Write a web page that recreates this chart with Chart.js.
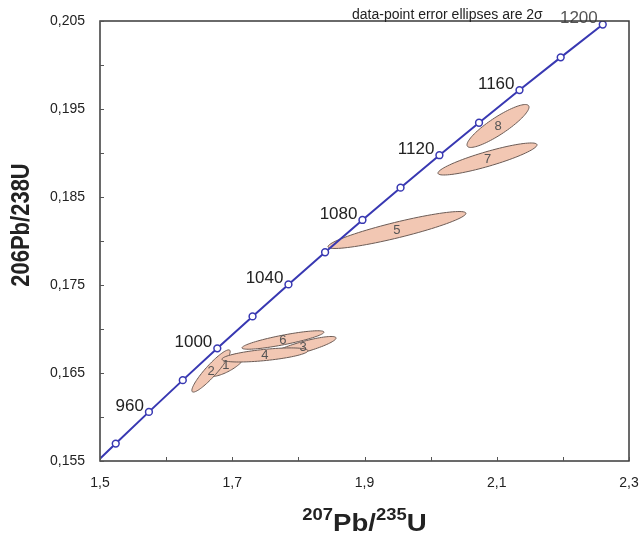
<!DOCTYPE html>
<html>
<head>
<meta charset="utf-8">
<title>Concordia</title>
<script src="https://cdn.jsdelivr.net/npm/chart.js@4.4.0/dist/chart.umd.min.js"></script>
<style>
  html, body { margin: 0; padding: 0; background: #fff; }
</style>
</head>
<body>
<canvas id="concordiaChart" width="639" height="535"></canvas>
<script>
// Concordia curve: ages (Ma) and their 207Pb/235U, 206Pb/238U ratios
const ages  = [930, 940, 960, 980, 1000, 1020, 1040, 1060, 1080, 1100, 1120, 1140, 1160, 1180, 1200];
const concX = [1.4991, 1.5238, 1.5740, 1.6252, 1.6774, 1.7307, 1.7850, 1.8404, 1.8969, 1.9545, 2.0133, 2.0732, 2.1344, 2.1967, 2.2603];
const concY = [0.15519, 0.15698, 0.16058, 0.16419, 0.16780, 0.17143, 0.17507, 0.17872, 0.18239, 0.18606, 0.18975, 0.19344, 0.19715, 0.20087, 0.20460];
const labelledAges = [960, 1000, 1040, 1080, 1120, 1160, 1200];

// Data points: centre, 2 sigma errors and error correlation
const ellNames = ['1', '2', '3', '4', '5', '6', '7', '8'];
const ellX   = [1.6905, 1.6679, 1.8070, 1.7495, 1.9491, 1.7767, 2.0860, 2.1019];
const ellY   = [0.16590, 0.16523, 0.16795, 0.16705, 0.18125, 0.16875, 0.18932, 0.19307];
const ellSx  = [0.0280, 0.0290, 0.0500, 0.0650, 0.1043, 0.0620, 0.0749, 0.0469];
const ellSy  = [0.00130, 0.00240, 0.00120, 0.00080, 0.00210, 0.00105, 0.00182, 0.00244];
const ellRho = [0.75, 0.92, 0.85, 0.60, 0.90, 0.85, 0.88, 0.88];

const noteText = 'data-point error ellipses are 2\u03c3';
const FONT = '"Liberation Sans", Arial, Helvetica, sans-serif';

// fill + outline of each error ellipse, then its number
const ellipsePlugin = {
    id: 'ellipses',
    beforeDatasetsDraw(chart) {
        const { ctx, chartArea: a, scales: { x, y } } = chart;
        ctx.save();
        ctx.beginPath();
        ctx.rect(a.left, a.top, a.right - a.left, a.bottom - a.top);
        ctx.clip();
        ellX.forEach((cx, i) => {
            const s = Math.sqrt(1 - ellRho[i] * ellRho[i]);
            ctx.beginPath();
            for (let k = 0; k <= 90; k++) {
                const t = k / 90 * 2 * Math.PI;
                const px = x.getPixelForValue(cx + ellSx[i] * Math.cos(t));
                const py = y.getPixelForValue(ellY[i] + ellSy[i] * (ellRho[i] * Math.cos(t) + s * Math.sin(t)));
                if (k === 0) ctx.moveTo(px, py); else ctx.lineTo(px, py);
            }
            ctx.closePath();
            ctx.fillStyle = '#f2c7b3';
            ctx.fill();
            ctx.strokeStyle = '#6b5b55';
            ctx.lineWidth = 1;
            ctx.stroke();
        });
        ctx.fillStyle = '#555';
        ctx.font = '13px ' + FONT;
        ctx.textAlign = 'center';
        ctx.textBaseline = 'middle';
        ellNames.forEach((n, i) => {
            ctx.fillText(n, x.getPixelForValue(ellX[i]), y.getPixelForValue(ellY[i]));
        });
        ctx.restore();
    }
};

// age labels next to the concordia markers
const ageLabelPlugin = {
    id: 'ageLabels',
    afterDatasetsDraw(chart) {
        const { ctx, scales: { x, y } } = chart;
        ctx.save();
        ctx.font = '17px ' + FONT;
        ctx.textAlign = 'right';
        ctx.textBaseline = 'middle';
        labelledAges.forEach(age => {
            const i = ages.indexOf(age);
            ctx.fillStyle = age === 1200 ? '#555' : '#222';
            ctx.fillText(String(age), x.getPixelForValue(concX[i]) - 5, y.getPixelForValue(concY[i]) - 6);
        });
        ctx.restore();
    }
};

// box, inward ticks, axis titles and note
const framePlugin = {
    id: 'frame',
    afterDraw(chart) {
        const { ctx, chartArea: a, scales: { x, y } } = chart;
        ctx.save();
        ctx.strokeStyle = '#3a3a3a';
        ctx.lineWidth = 1.5;
        ctx.strokeRect(a.left, a.top, a.right - a.left, a.bottom - a.top);

        ctx.strokeStyle = '#555';
        ctx.lineWidth = 1;
        ctx.beginPath();
        x.ticks.forEach(t => {
            const px = Math.round(x.getPixelForValue(t.value)) + 0.5;
            ctx.moveTo(px, a.bottom);
            ctx.lineTo(px, a.bottom - 4);
        });
        y.ticks.forEach(t => {
            const py = Math.round(y.getPixelForValue(t.value)) + 0.5;
            ctx.moveTo(a.left, py);
            ctx.lineTo(a.left + 4, py);
        });
        ctx.stroke();

        // note at the top
        ctx.fillStyle = '#222';
        ctx.font = '14px ' + FONT;
        ctx.textAlign = 'left';
        ctx.textBaseline = 'alphabetic';
        ctx.fillText(noteText, 352, 19);

        // y title
        ctx.save();
        ctx.translate(22, 225);
        ctx.scale(1.15, 1);
        ctx.rotate(-Math.PI / 2);
        ctx.font = 'bold 22px ' + FONT;
        ctx.textAlign = 'center';
        ctx.textBaseline = 'middle';
        ctx.fillText('206Pb/238U', 0, 0);
        ctx.restore();

        // x title with superscripts
        const parts = [['207', true], ['Pb/', false], ['235', true], ['U', false]];
        const big = 'bold 24px ' + FONT, small = 'bold 16px ' + FONT;
        ctx.save();
        ctx.translate((a.left + a.right) / 2, 531);
        ctx.scale(1.15, 1);
        let total = 0;
        parts.forEach(p => { ctx.font = p[1] ? small : big; total += ctx.measureText(p[0]).width; });
        let cx = -total / 2;
        ctx.textAlign = 'left';
        parts.forEach(p => {
            ctx.font = p[1] ? small : big;
            ctx.fillText(p[0], cx, p[1] ? -11 : 0);
            cx += ctx.measureText(p[0]).width;
        });
        ctx.restore();
        ctx.restore();
    }
};

const ctx = document.getElementById('concordiaChart').getContext('2d');
new Chart(ctx, {
    type: 'scatter',
    data: {
        datasets: [{
            label: 'Concordia',
            data: ages.map((a, i) => ({ x: concX[i], y: concY[i] })),
            showLine: true,
            borderColor: '#3838b2',
            borderWidth: 2,
            pointRadius: ages.map(a => a === 930 ? 0 : 3.4),
            pointBackgroundColor: '#fff',
            pointBorderColor: '#3838b2',
            pointBorderWidth: 1.5
        }]
    },
    options: {
        responsive: false,
        animation: false,
        layout: { padding: { top: 21, right: 10, left: 0, bottom: 0 } },
        plugins: {
            legend: { display: false },
            tooltip: { enabled: false }
        },
        scales: {
            x: {
                type: 'linear',
                min: 1.5,
                max: 2.3,
                afterFit: s => { s.height = 74; s.paddingLeft = 0; s.paddingRight = 0; },
                border: { display: false },
                grid: { display: false, drawTicks: false },
                ticks: {
                    stepSize: 0.1,
                    autoSkip: false,
                    maxRotation: 0,
                    padding: 14,
                    color: '#222',
                    font: { family: FONT, size: 14 },
                    callback: v => {
                        const k = Math.round(v * 10);
                        return k % 2 === 1 ? (k / 10).toFixed(1).replace('.', ',') : '';
                    }
                }
            },
            y: {
                type: 'linear',
                min: 0.155,
                max: 0.205,
                afterFit: s => { s.width = 100; s.paddingTop = 0; s.paddingBottom = 0; },
                border: { display: false },
                grid: { display: false, drawTicks: false },
                ticks: {
                    stepSize: 0.005,
                    autoSkip: false,
                    padding: 15,
                    color: '#222',
                    font: { family: FONT, size: 14 },
                    callback: v => {
                        const k = Math.round(v * 1000);
                        return k % 10 === 5 ? (k / 1000).toFixed(3).replace('.', ',') : '';
                    }
                }
            }
        }
    },
    plugins: [ellipsePlugin, ageLabelPlugin, framePlugin]
});
</script>
</body>
</html>
